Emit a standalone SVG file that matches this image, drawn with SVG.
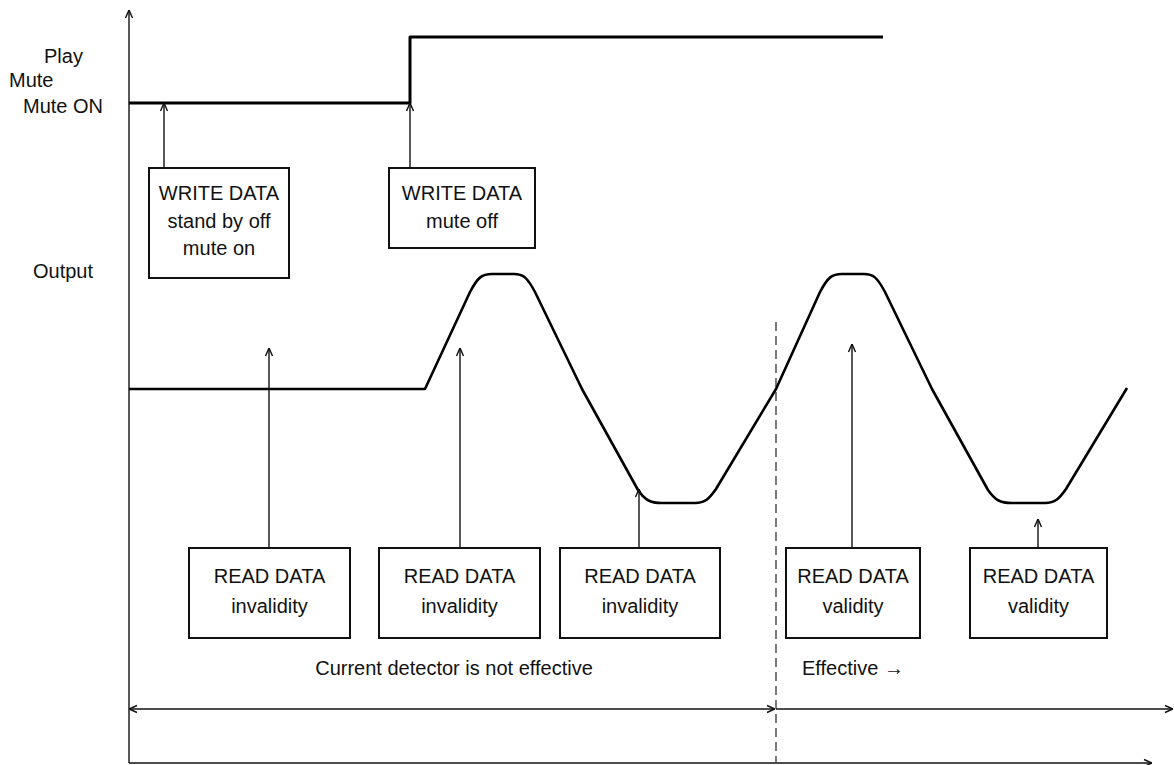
<svg xmlns="http://www.w3.org/2000/svg" width="1174" height="765" viewBox="0 0 1174 765">
<style>
text{font-family:"Liberation Sans",Arial,sans-serif;font-size:20px;fill:#111}
.mid{text-anchor:middle}
.box{fill:#fff;stroke:#111;stroke-width:2}
.ln{stroke:#111;stroke-width:1.4;fill:none}
.sig{stroke:#000;stroke-width:3;fill:none;stroke-linejoin:round}
.wave{stroke:#000;stroke-width:2.6;fill:none;stroke-linejoin:round}
</style>
<defs>
<marker id="ah" viewBox="0 0 10 10" refX="10" refY="5" markerWidth="10" markerHeight="10" orient="auto-start-reverse" markerUnits="userSpaceOnUse">
<path d="M2,1.5 L10,5 L2,8.5" fill="none" stroke="#111" stroke-width="1.4"/>
</marker>
</defs>

<g id="axes">
<line class="ln" x1="129" y1="763" x2="129" y2="10" marker-end="url(#ah)"/>
<line class="ln" x1="129" y1="763" x2="1152" y2="763" marker-end="url(#ah)"/>
<line x1="776" y1="322" x2="776" y2="762" stroke="#333" stroke-width="1.3" stroke-dasharray="9 5"/>
</g>

<g id="labels">
<text x="44" y="63">Play</text>
<text x="9" y="87">Mute</text>
<text x="23" y="113">Mute ON</text>
<text x="33" y="278">Output</text>
<text class="mid" x="454" y="675">Current detector is not effective</text>
<text x="802" y="675">Effective →</text>
</g>

<g id="signals">
<path class="sig" d="M129,103 H410 V37 H883"/>
<path class="wave" d="M129,389 H425 L470,292 C478,277 482,274 492,274 H514 C523,274 527,277 535,292 L582,389 L638,490 C645,500 650,503 662,503 H695 C705,503 709,499 716,489 L776,389 L820,292 C828,277 832,274 842,274 H864 C873,274 877,277 885,292 L932,389 L988,490 C995,500 1000,503 1012,503 H1045 C1055,503 1059,499 1066,489 L1127,388"/>
</g>

<g id="connectors">
<line class="ln" x1="164" y1="168" x2="164" y2="103" marker-end="url(#ah)"/>
<line class="ln" x1="410" y1="168" x2="410" y2="103" marker-end="url(#ah)"/>
<line class="ln" x1="269" y1="548" x2="269" y2="348" marker-end="url(#ah)"/>
<line class="ln" x1="460" y1="548" x2="460" y2="348" marker-end="url(#ah)"/>
<line class="ln" x1="639" y1="548" x2="639" y2="489" marker-end="url(#ah)"/>
<line class="ln" x1="852" y1="548" x2="852" y2="344" marker-end="url(#ah)"/>
<line class="ln" x1="1038" y1="548" x2="1038" y2="519" marker-end="url(#ah)"/>
<line class="ln" x1="129" y1="709" x2="775" y2="709" marker-start="url(#ah)" marker-end="url(#ah)"/>
<line class="ln" x1="776" y1="709" x2="1173" y2="709" marker-end="url(#ah)"/>
</g>

<g id="write1">
<rect class="box" x="149" y="168" width="140" height="110"/>
<text class="mid" x="219" y="200">WRITE DATA</text>
<text class="mid" x="219" y="228">stand by off</text>
<text class="mid" x="219" y="255">mute on</text>
</g>
<g id="write2">
<rect class="box" x="389" y="168" width="146" height="80"/>
<text class="mid" x="462" y="200">WRITE DATA</text>
<text class="mid" x="462" y="228">mute off</text>
</g>

<g id="read1">
<rect class="box" x="189" y="548" width="161" height="90"/>
<text class="mid" x="269.5" y="583">READ DATA</text>
<text class="mid" x="269.5" y="613">invalidity</text>
</g>
<g id="read2">
<rect class="box" x="379" y="548" width="161" height="90"/>
<text class="mid" x="459.5" y="583">READ DATA</text>
<text class="mid" x="459.5" y="613">invalidity</text>
</g>
<g id="read3">
<rect class="box" x="560" y="548" width="160" height="90"/>
<text class="mid" x="640" y="583">READ DATA</text>
<text class="mid" x="640" y="613">invalidity</text>
</g>
<g id="read4">
<rect class="box" x="786" y="548" width="134" height="90"/>
<text class="mid" x="853" y="583">READ DATA</text>
<text class="mid" x="853" y="613">validity</text>
</g>
<g id="read5">
<rect class="box" x="970" y="548" width="137" height="90"/>
<text class="mid" x="1038.5" y="583">READ DATA</text>
<text class="mid" x="1038.5" y="613">validity</text>
</g>
</svg>
